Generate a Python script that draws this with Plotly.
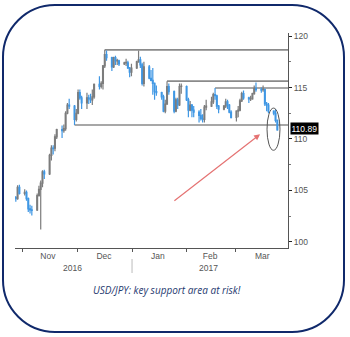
import pandas as pd
import plotly.graph_objects as go

# ---------------- data (USD/JPY daily candles) ----------------
dates = pd.bdate_range("2016-10-26", "2017-03-22")

open_ = [104.30, 104.20, 105.30, 104.70,
         104.80, 104.20, 103.20, 103.10, 103.10, 104.50, 105.10, 105.70, 106.80, 106.60, 108.40, 109.10, 109.10, 110.20, 110.90, 110.80, 111.00, 112.50, 113.30, 113.20, 111.90, 112.50,
         114.50, 114.00, 113.50, 114.00, 113.90, 113.80, 114.10, 115.30, 115.10, 115.40, 117.10, 118.20, 117.90, 117.00, 117.90, 117.60, 117.60, 117.30, 117.40, 117.40, 116.90, 116.50,
         116.90, 117.50, 117.70, 117.20, 115.40, 117.00, 115.90, 115.70, 115.40, 114.60, 114.50, 114.10, 112.70, 113.40, 115.10, 114.60, 112.70, 113.80, 113.30, 115.10, 115.10, 113.80,
         112.80, 113.30, 112.80, 112.60, 112.30, 112.00, 111.90, 113.10, 113.20, 113.60, 114.30, 114.20, 113.20, 112.90, 113.20, 113.60, 113.30, 112.60, 112.10, 112.70,
         112.80, 113.70, 114.40, 114.00, 113.90, 113.90, 114.40, 114.90, 114.80, 114.80, 114.80, 113.40, 113.30, 112.70, 112.50, 111.80]
high = [104.45, 105.50, 105.55, 105.10,
        105.00, 104.30, 103.60, 103.50, 104.70, 105.45, 105.95, 106.95, 107.00, 108.55, 109.40, 109.40, 110.45, 111.00, 111.30, 111.40, 112.70, 113.50, 113.90, 113.30, 112.90, 114.80,
        114.80, 114.20, 114.50, 114.30, 114.40, 114.80, 115.40, 116.10, 115.60, 117.20, 118.66, 118.60, 118.00, 118.00, 118.10, 117.80, 117.70, 117.50, 117.80, 117.60, 117.00, 117.30,
        117.60, 118.60, 118.00, 117.40, 117.50, 117.20, 116.70, 116.90, 115.50, 115.20, 114.60, 114.30, 113.80, 115.62, 115.40, 114.70, 114.00, 114.00, 115.40, 115.40, 115.20, 114.00,
        113.70, 113.40, 113.20, 112.80, 112.90, 112.40, 113.30, 113.80, 114.10, 114.50, 114.95, 114.30, 113.30, 113.30, 113.90, 113.80, 113.40, 112.80, 112.80, 113.20,
        113.90, 114.60, 114.70, 114.10, 114.20, 114.50, 115.20, 115.50, 115.00, 115.20, 114.90, 113.60, 113.50, 112.80, 112.90, 111.90]
low = [103.90, 104.10, 104.60, 104.50,
       104.00, 102.90, 102.75, 102.55, 103.00, 104.40, 101.20, 105.30, 106.10, 106.50, 107.90, 108.50, 108.80, 110.00, 110.10, 110.60, 110.80, 112.40, 112.90, 111.36, 111.70, 112.40,
       113.80, 112.90, 112.90, 113.40, 113.50, 113.30, 113.90, 114.80, 114.90, 114.80, 116.90, 117.60, 116.60, 116.90, 117.20, 117.20, 117.10, 117.20, 117.10, 116.80, 116.00, 116.10,
       116.80, 117.40, 116.90, 115.20, 115.10, 115.80, 115.60, 114.30, 113.80, 114.20, 113.80, 112.60, 112.50, 113.30, 114.30, 112.50, 112.60, 112.90, 113.20, 114.40, 113.70, 112.10,
       112.70, 112.10, 112.10, 111.60, 111.80, 111.60, 111.60, 112.80, 113.10, 113.40, 113.80, 112.90, 112.50, 112.80, 113.00, 112.90, 112.50, 112.00, 111.70, 112.10,
       112.70, 113.60, 113.80, 113.50, 113.70, 113.80, 114.30, 114.60, 114.50, 114.60, 113.20, 112.70, 112.50, 112.30, 111.60, 110.80]
close = [104.20, 105.30, 104.70, 104.80,
         104.20, 103.20, 103.10, 103.05, 104.50, 105.10, 105.70, 106.80, 106.60, 108.40, 109.10, 109.05, 110.20, 110.90, 110.80, 111.00, 112.50, 113.30, 113.20, 111.90, 112.50, 114.50,
         114.00, 113.50, 114.00, 113.90, 113.80, 114.10, 115.30, 115.10, 115.40, 117.10, 118.20, 117.90, 117.00, 117.90, 117.60, 117.65, 117.30, 117.40, 117.45, 116.90, 116.50, 116.90,
         117.50, 117.70, 117.20, 115.40, 117.00, 115.90, 115.70, 115.40, 114.60, 114.50, 114.10, 112.70, 113.40, 115.10, 114.60, 112.70, 113.80, 113.30, 115.10, 115.15, 113.80, 112.80,
         113.30, 112.80, 112.60, 112.30, 112.00, 111.90, 113.10, 113.20, 113.60, 114.30, 114.20, 113.20, 112.90, 113.20, 113.60, 113.30, 112.60, 112.10, 112.70, 112.80,
         113.70, 114.40, 114.00, 113.90, 113.95, 114.40, 114.90, 114.80, 114.75, 114.85, 113.40, 113.30, 112.70, 112.50, 111.80, 110.89]
assert len(dates) == len(open_) == len(high) == len(low) == len(close)

# support / resistance levels: (start date, level)
levels_start = ["2016-12-15", "2017-01-19", "2017-02-15", "2016-11-28"]
levels_value = [118.66, 115.62, 114.95, 111.36]

last_price = 110.89
y_ticks = [100, 105, 110, 115, 120]
month_labels = ["Nov", "Dec", "Jan", "Feb", "Mar"]
month_label_pos = ["2016-11-13", "2016-12-14 14:00", "2017-01-13 20:00", "2017-02-12 05:00", "2017-03-13 12:00"]
month_bounds = ["2016-10-30", "2016-11-29 10:00", "2016-12-30 08:00", "2017-01-30 05:00", "2017-02-26 05:00"]
year_labels = ["2016", "2017"]
year_label_pos = ["2016-11-27", "2017-02-11 12:00"]
caption = "USD/JPY: key support area at risk!"

# ---------------- figure ----------------
W, H = 350, 337
L_M, R_M, T_M, B_M = 15, 62, 33, 89
PW, PH = W - L_M - R_M, H - T_M - B_M
X_RANGE = ["2016-10-25 13:00", "2017-03-28 00:00"]
Y_RANGE = [99.4, 120.3]

def px_x(px):
    return (px - L_M) / PW

def px_y(py):
    return (H - B_M - py) / PH

fig = go.Figure()
fig.add_trace(go.Candlestick(
    x=dates, open=open_, high=high, low=low, close=close,
    increasing=dict(line=dict(color="#7c7c7c", width=1.2), fillcolor="#7c7c7c"),
    decreasing=dict(line=dict(color="#3f97e4", width=1.2), fillcolor="#3f97e4"),
    whiskerwidth=0, showlegend=False, hoverinfo="skip",
))

shapes = []
for s, v in zip(levels_start, levels_value):
    shapes.append(dict(type="line", xref="x", yref="y", x0=s, x1=X_RANGE[1], y0=v, y1=v,
                       line=dict(color="#8a8a8a", width=1.6), layer="below"))

# ellipse around the latest candles
shapes.append(dict(type="circle", xref="x", yref="y",
                   x0="2017-03-16 05:00", x1="2017-03-23 12:00", y0=108.9, y1=113.0,
                   line=dict(color="#555555", width=1)))

# year divider
shapes.append(dict(type="line", xref="x", yref="paper", x0="2016-12-30 08:00", x1="2016-12-30 08:00",
                   y0=px_y(259), y1=px_y(273), line=dict(color="#bbbbbb", width=1)))

# rounded border
Lb, Rb, Tb, Bb, r = 3, 344, 5, 332, 52
k = 0.5523 * r
def P(x, y):
    return f"{px_x(x):.5f},{px_y(y):.5f}"
path = (f"M {P(Lb + r, Tb)} L {P(Rb - r, Tb)} "
        f"C {P(Rb - r + k, Tb)} {P(Rb, Tb + r - k)} {P(Rb, Tb + r)} "
        f"L {P(Rb, Bb - r)} C {P(Rb, Bb - r + k)} {P(Rb - r + k, Bb)} {P(Rb - r, Bb)} "
        f"L {P(Lb + r, Bb)} C {P(Lb + r - k, Bb)} {P(Lb, Bb - r + k)} {P(Lb, Bb - r)} "
        f"L {P(Lb, Tb + r)} C {P(Lb, Tb + r - k)} {P(Lb + r - k, Tb)} {P(Lb + r, Tb)} Z")
shapes.append(dict(type="path", xref="paper", yref="paper", path=path,
                   line=dict(color="#10296b", width=2)))

narrow = "Liberation Sans Narrow, Liberation Sans, Arial"
annotations = [
    # red arrow
    dict(x="2017-03-12 07:00", y=110.46, ax="2017-01-22 07:00", ay=103.88,
         xref="x", yref="y", axref="x", ayref="y", text="", showarrow=True,
         arrowhead=2, arrowsize=1, arrowwidth=1.2, arrowcolor="#e57373"),
    # last price box
    dict(x=1, y=last_price, xref="paper", yref="y", xanchor="left", yanchor="middle",
         xshift=2, yshift=1.5, text=f"{last_price:.2f}", showarrow=False,
         bgcolor="#000000", borderpad=0.5,
         font=dict(family=narrow, size=8.5, color="#ffffff")),
    # caption
    dict(x=px_x(167), y=px_y(290), xref="paper", yref="paper", text=caption,
         showarrow=False, xanchor="center", yanchor="middle",
         font=dict(family="Open Sans, Noto Sans, sans-serif", size=10, color="#1f3a70", style="italic")),
]
for lab, pos in zip(year_labels, year_label_pos):
    annotations.append(dict(x=pos, y=px_y(268), xref="x", yref="paper", text=lab, showarrow=False,
                            xanchor="center", yanchor="middle",
                            font=dict(family=narrow, size=8.5, color="#555555")))

tick_font = dict(family=narrow, size=8.5, color="#555555")

fig.update_layout(
    width=W, height=H, margin=dict(l=L_M, r=R_M, t=T_M, b=B_M),
    paper_bgcolor="white", plot_bgcolor="white",
    shapes=shapes, annotations=annotations, showlegend=False,
    xaxis=dict(type="date", range=X_RANGE, rangeslider=dict(visible=False),
               showgrid=False, zeroline=False, showline=True, linecolor="#555555", linewidth=1,
               tickmode="array", tickvals=month_label_pos, ticktext=month_labels, ticks="",
               tickfont=tick_font, ticklabelstandoff=0,
               minor=dict(tickmode="array", tickvals=month_bounds, ticks="outside",
                          ticklen=3, tickcolor="#555555", showgrid=False)),
    yaxis=dict(range=Y_RANGE, side="right", showgrid=False, zeroline=False,
               showline=True, linecolor="#555555", linewidth=1,
               tickmode="array", tickvals=y_ticks, ticks="outside", ticklen=3,
               tickcolor="#222222", tickfont=tick_font,
               minor=dict(tickmode="array", tickvals=[102.5, 107.5, 112.5, 117.5],
                          ticks="outside", ticklen=2, tickcolor="#777777", showgrid=False)),
)

fig.write_html("out.html")
